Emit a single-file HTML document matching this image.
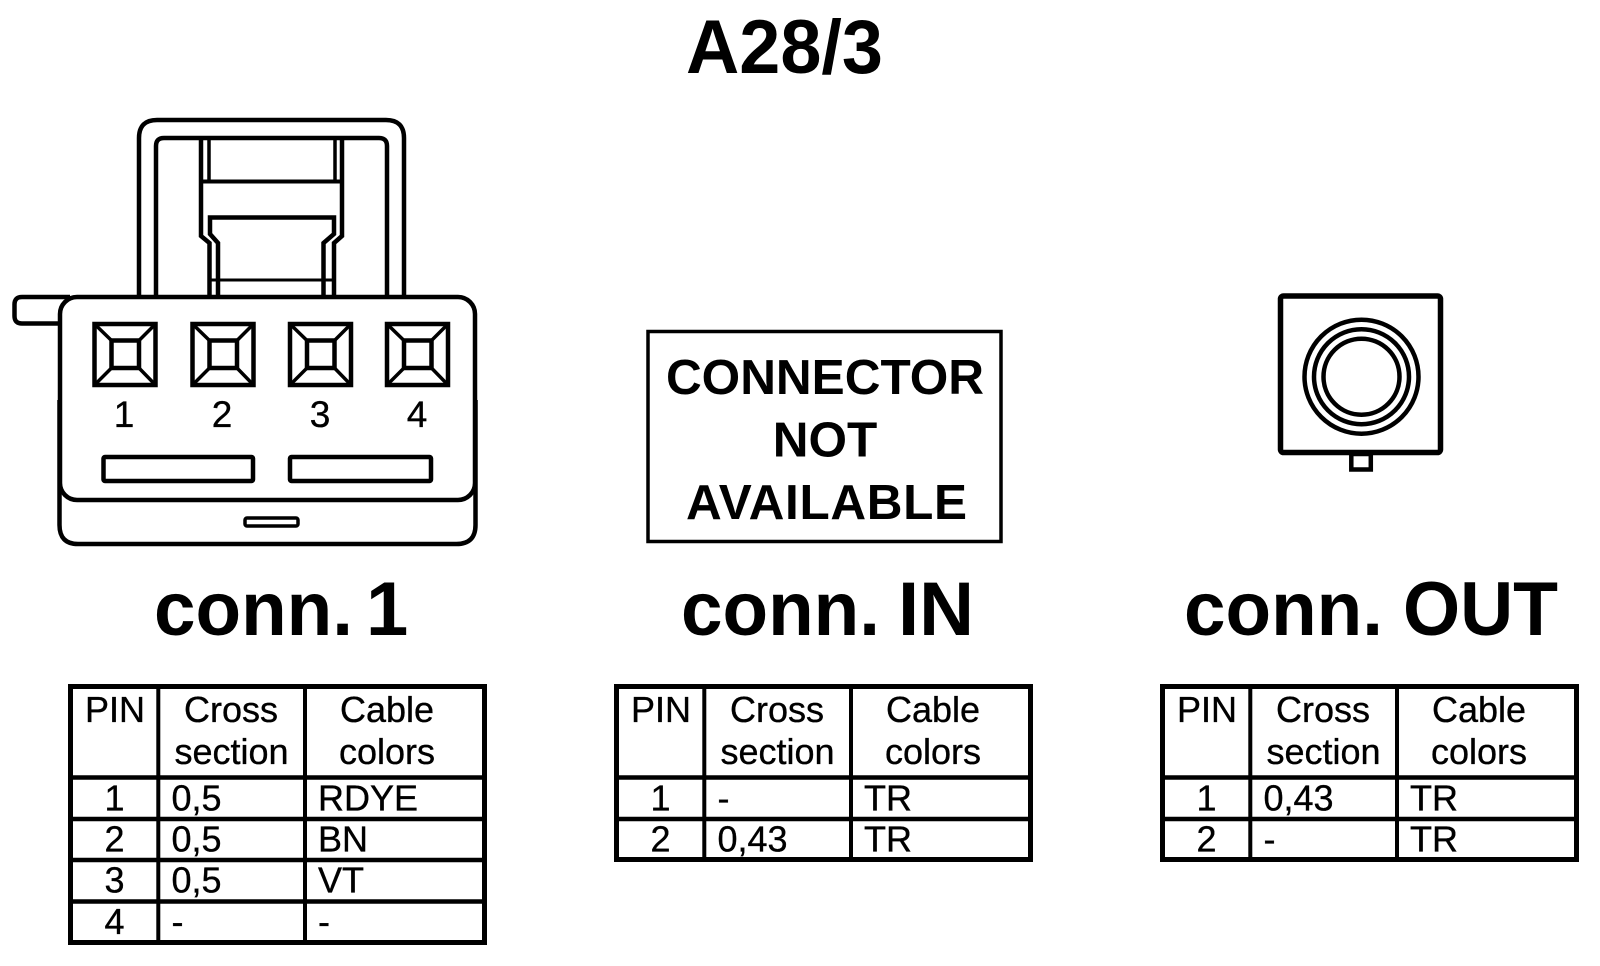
<!DOCTYPE html>
<html lang="en">
<head>
<meta charset="utf-8">
<title>A28/3</title>
<style>
html,body{margin:0;padding:0;background:#fff;width:1600px;height:966px;overflow:hidden}
svg{display:block}
text{font-family:"Liberation Sans",Arial,sans-serif;fill:#000;stroke:none}
.b{font-weight:bold}
.t{font-size:36px;stroke:#000;stroke-width:.35px}
.d{font-size:37px;stroke:#000;stroke-width:.35px;text-anchor:middle}
.m{text-anchor:middle}
</style>
</head>
<body>
<svg width="1600" height="966" viewBox="0 0 1600 966" xmlns="http://www.w3.org/2000/svg">
<rect width="1600" height="966" fill="#fff"/>

<text class="b" x="686" y="73" font-size="76" textLength="197" lengthAdjust="spacingAndGlyphs">A28/3</text>

<!-- Connector 1 -->
<g fill="none" stroke="#000" stroke-width="4.500">
  <path d="M139 297V138Q139 120 157 120H386Q404 120 404 138V297"/>
  <path d="M156 297V146Q156 138 164 138H379Q387 138 387 146V297"/>
  <path d="M201 138V236L209.500 243V297M342 138V236L334 243V297"/>
  <path d="M209 138V181M335 138V181" stroke-width="3.500"/>
  <path d="M201 181.500H342" stroke-width="4"/>
  <path d="M218 297V243L210 234V217.500H334V234L323.500 243V297"/>
  <path d="M210 280H334" stroke-width="3"/>
  <path d="M60 323.500H22Q14.500 323.500 14.500 316V304.500Q14.500 297 22 297H70"/>
  <rect x="60" y="297" width="415" height="203" rx="17" fill="#fff"/>
  <path d="M59.500 400V525Q59.500 544 78 544H456.500Q475.500 544 475.500 525V400"/>
  <rect x="103.500" y="457" width="149.500" height="24" rx="1.500"/>
  <rect x="290" y="457" width="141" height="24" rx="1.500"/>
  <rect x="245" y="518" width="53" height="8" rx="2" stroke-width="3.500"/>
</g>

<g fill="none" stroke="#000" stroke-width="4.500">
  <g transform="translate(94.500 324)"><rect width="61" height="61"/><rect x="17" y="16.500" width="27.500" height="27.500"/><path d="M0 0L17 16.500M61 0L44.500 16.500M0 61L17 44M61 61L44.500 44" stroke-width="3.500"/></g>
  <g transform="translate(192.500 324)"><rect width="61" height="61"/><rect x="17" y="16.500" width="27.500" height="27.500"/><path d="M0 0L17 16.500M61 0L44.500 16.500M0 61L17 44M61 61L44.500 44" stroke-width="3.500"/></g>
  <g transform="translate(290 324)"><rect width="61" height="61"/><rect x="17" y="16.500" width="27.500" height="27.500"/><path d="M0 0L17 16.500M61 0L44.500 16.500M0 61L17 44M61 61L44.500 44" stroke-width="3.500"/></g>
  <g transform="translate(387 324)"><rect width="61" height="61"/><rect x="17" y="16.500" width="27.500" height="27.500"/><path d="M0 0L17 16.500M61 0L44.500 16.500M0 61L17 44M61 61L44.500 44" stroke-width="3.500"/></g>
</g>
<text class="d" x="124" y="427">1</text>
<text class="d" x="222" y="427">2</text>
<text class="d" x="320" y="427">3</text>
<text class="d" x="417" y="427">4</text>

<!-- Not available -->
<rect x="648" y="331.500" width="353" height="210" fill="none" stroke="#000" stroke-width="3.500"/>
<text class="b m" x="825" y="394" font-size="49.500">CONNECTOR</text>
<text class="b m" x="825" y="456.500" font-size="49.500">NOT</text>
<text class="b" x="686" y="519" font-size="49.500" textLength="281" lengthAdjust="spacing">AVAILABLE</text>

<!-- Conn OUT -->
<rect x="1280.500" y="296" width="160" height="156.500" rx="3" fill="none" stroke="#000" stroke-width="5.500"/>
<rect x="1351.300" y="454" width="19.500" height="15.500" fill="none" stroke="#000" stroke-width="4.500"/>
<circle cx="1361.500" cy="376.700" r="57" fill="none" stroke="#000" stroke-width="4.500"/>
<circle cx="1361.500" cy="376.700" r="47.500" fill="none" stroke="#000" stroke-width="4.500"/>
<circle cx="1361.500" cy="376.700" r="38" fill="none" stroke="#000" stroke-width="4.500"/>

<!-- Headings -->
<text class="b" x="154" y="635" font-size="76" textLength="199" lengthAdjust="spacingAndGlyphs">conn.</text>
<text class="b" x="366" y="635" font-size="76">1</text>
<text class="b" x="681" y="635" font-size="76" textLength="199" lengthAdjust="spacingAndGlyphs">conn.</text>
<text class="b" x="898" y="635" font-size="76">IN</text>
<text class="b" x="1184" y="635" font-size="76" textLength="199" lengthAdjust="spacingAndGlyphs">conn.</text>
<text class="b" x="1403" y="635" font-size="76" textLength="155" lengthAdjust="spacingAndGlyphs">OUT</text>

<!-- Table 1 -->
<g>
  <rect x="70.500" y="686.500" width="414" height="256" fill="none" stroke="#000" stroke-width="5"/>
  <path d="M158.300 686V943M305 686V943" stroke="#000" stroke-width="4" fill="none"/>
  <path d="M70 777.500H485M70 819H485M70 860H485M70 901.500H485" stroke="#000" stroke-width="4.500" fill="none"/>
  <text class="t m" x="115" y="722">PIN</text>
  <text class="t m" x="231" y="722">Cross</text>
  <text class="t m" x="231.500" y="764">section</text>
  <text class="t m" x="387" y="722">Cable</text>
  <text class="t m" x="387" y="764">colors</text>
  <text class="t m" x="114.500" y="810.500">1</text><text class="t" x="171.500" y="810.500">0,5</text><text class="t" x="318" y="810.500">RDYE</text>
  <text class="t m" x="114.500" y="851.500">2</text><text class="t" x="171.500" y="851.500">0,5</text><text class="t" x="318" y="851.500">BN</text>
  <text class="t m" x="114.500" y="892.500">3</text><text class="t" x="171.500" y="892.500">0,5</text><text class="t" x="318" y="892.500">VT</text>
  <text class="t m" x="114.500" y="934">4</text><text class="t" x="171.500" y="934">-</text><text class="t" x="318" y="934">-</text>
</g>

<!-- Table 2 -->
<g transform="translate(546 0)">
  <rect x="70.500" y="686.500" width="414" height="173" fill="none" stroke="#000" stroke-width="5"/>
  <path d="M158.300 686V860M305 686V860" stroke="#000" stroke-width="4" fill="none"/>
  <path d="M70 777.500H485M70 819H485" stroke="#000" stroke-width="4.500" fill="none"/>
  <text class="t m" x="115" y="722">PIN</text>
  <text class="t m" x="231" y="722">Cross</text>
  <text class="t m" x="231.500" y="764">section</text>
  <text class="t m" x="387" y="722">Cable</text>
  <text class="t m" x="387" y="764">colors</text>
  <text class="t m" x="114.500" y="810.500">1</text><text class="t" x="171.500" y="810.500">-</text><text class="t" x="318" y="810.500">TR</text>
  <text class="t m" x="114.500" y="851.500">2</text><text class="t" x="171.500" y="851.500">0,43</text><text class="t" x="318" y="851.500">TR</text>
</g>

<!-- Table 3 -->
<g transform="translate(1092 0)">
  <rect x="70.500" y="686.500" width="414" height="173" fill="none" stroke="#000" stroke-width="5"/>
  <path d="M158.300 686V860M305 686V860" stroke="#000" stroke-width="4" fill="none"/>
  <path d="M70 777.500H485M70 819H485" stroke="#000" stroke-width="4.500" fill="none"/>
  <text class="t m" x="115" y="722">PIN</text>
  <text class="t m" x="231" y="722">Cross</text>
  <text class="t m" x="231.500" y="764">section</text>
  <text class="t m" x="387" y="722">Cable</text>
  <text class="t m" x="387" y="764">colors</text>
  <text class="t m" x="114.500" y="810.500">1</text><text class="t" x="171.500" y="810.500">0,43</text><text class="t" x="318" y="810.500">TR</text>
  <text class="t m" x="114.500" y="851.500">2</text><text class="t" x="171.500" y="851.500">-</text><text class="t" x="318" y="851.500">TR</text>
</g>
</svg>
</body>
</html>
